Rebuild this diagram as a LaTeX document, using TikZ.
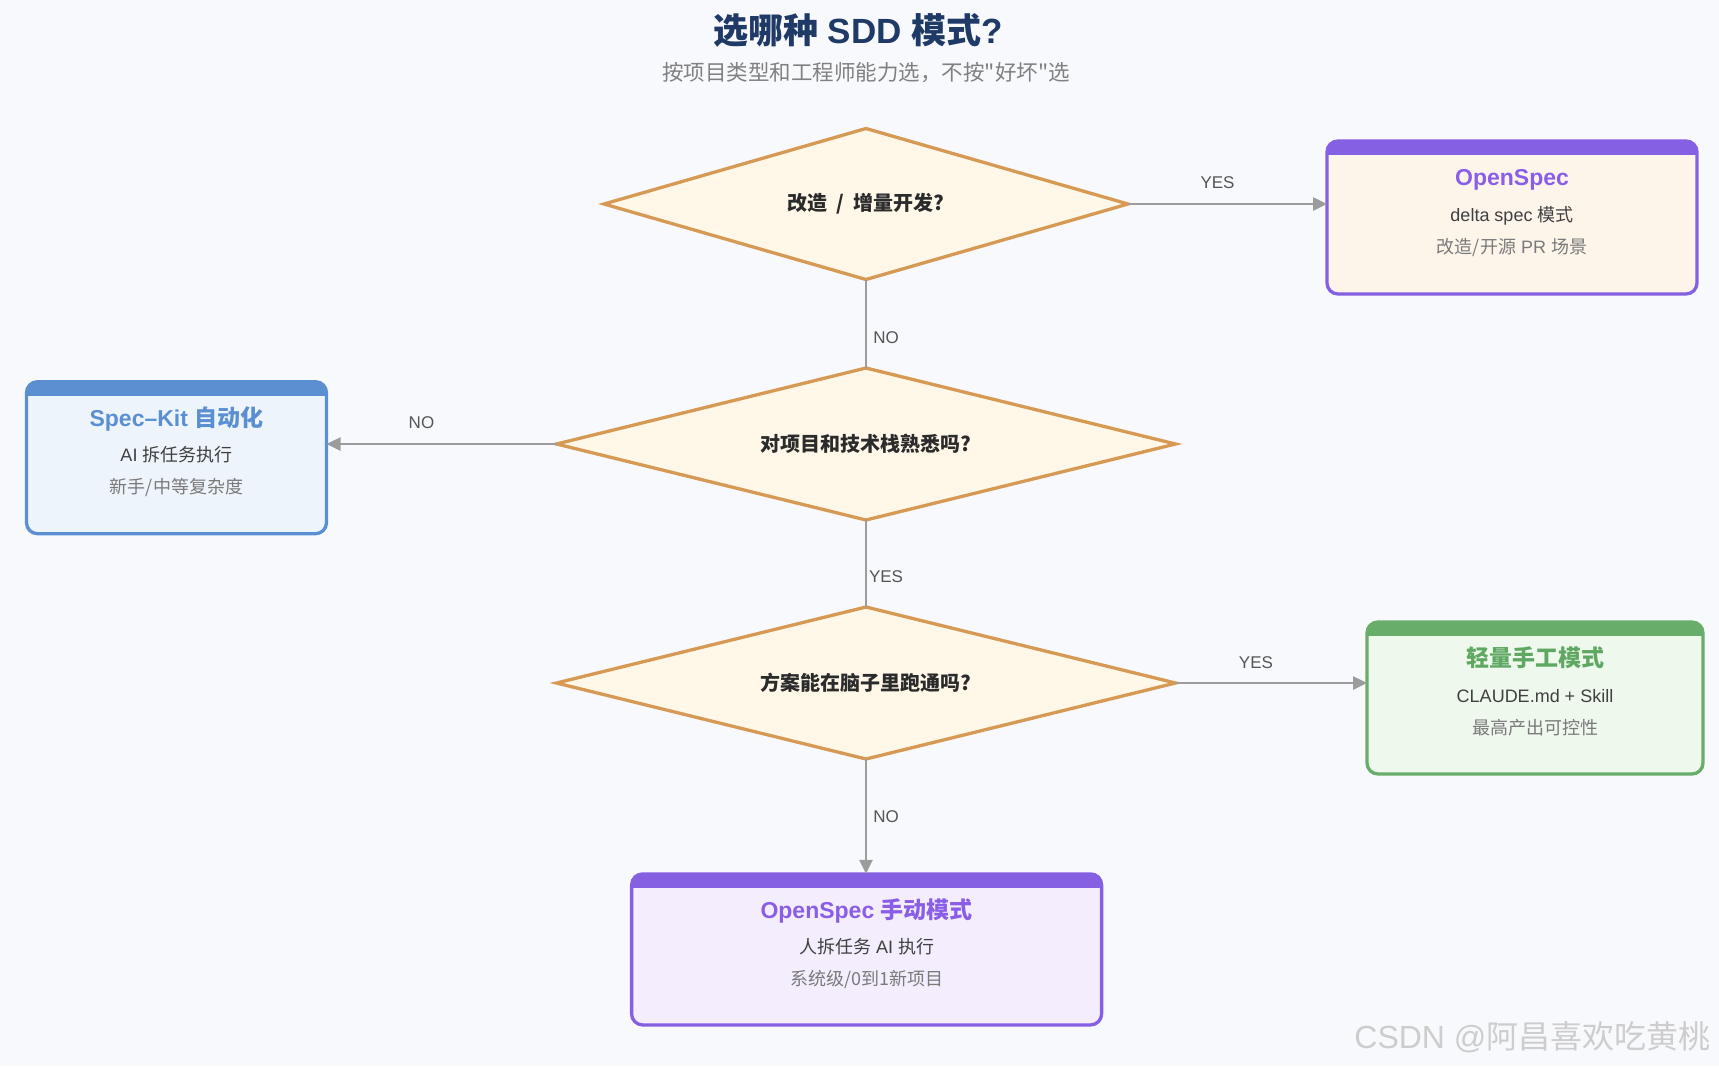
\documentclass[tikz,border=0pt]{standalone}
\usepackage{fontspec}
\setmainfont{Liberation Sans}
\newfontfamily\cjk{Noto Sans CJK SC}
\usetikzlibrary{shapes.geometric,arrows.meta}
\newcommand\zh[1]{{\cjk #1}}
\definecolor{bgc}{HTML}{F8F9FD}
\definecolor{titlec}{HTML}{1F3A66}
\definecolor{subc}{HTML}{808080}
\definecolor{diafill}{HTML}{FFF7E8}
\definecolor{diastroke}{HTML}{D69A55}
\definecolor{diatext}{HTML}{2B2B2B}
\definecolor{connc}{HTML}{9C9C9C}
\definecolor{labc}{HTML}{555555}
\definecolor{purple}{HTML}{8560E3}
\definecolor{purpletxt}{HTML}{8A5EE6}
\definecolor{osfill}{HTML}{FDF5EA}
\definecolor{bmfill}{HTML}{F3EDFD}
\definecolor{blueb}{HTML}{5A8FD2}
\definecolor{skfill}{HTML}{EEF4FB}
\definecolor{greenb}{HTML}{68AD6A}
\definecolor{greentxt}{HTML}{5FA862}
\definecolor{grfill}{HTML}{EEF8EC}
\definecolor{line2c}{HTML}{404040}
\definecolor{line3c}{HTML}{7A7A7A}
\definecolor{wmc}{HTML}{CDCDCD}
\tikzset{
  dia/.style={diamond, draw=diastroke, fill=diafill, line width=3.3pt, inner sep=0pt, outer sep=0pt,
    font=\cjk\bfseries\fontsize{20}{22}\selectfont, text=diatext},
  sbox/.style={rectangle, rounded corners=11pt, line width=3.3pt, inner sep=0pt, outer sep=0pt},
  btitle/.style={anchor=base, inner sep=0pt, font=\bfseries\fontsize{23}{25}\selectfont},
  bline/.style={anchor=base, inner sep=0pt, font=\fontsize{18}{20}\selectfont, text=line2c},
  bline3/.style={anchor=base, inner sep=0pt, font=\fontsize{18}{20}\selectfont, text=line3c},
  conn/.style={draw=connc, line width=2.5pt, -{Triangle[length=14pt,width=13pt]}},
  plain/.style={draw=connc, line width=2.5pt},
  lab/.style={font=\fontsize{17}{20}\selectfont, text=labc, inner sep=0pt}
}
\newcommand\band[2]{%
  \begin{scope}
    \clip[rounded corners=11pt] (#1.south west) rectangle (#1.north east);
    \fill[#2] (#1.north west) rectangle ([yshift=-14pt]#1.north east);
  \end{scope}}
\begin{document}
\begin{tikzpicture}[x=1pt,y=-1pt]
\fill[bgc] (0,0) rectangle (1719,1066);
\useasboundingbox (0,0) rectangle (1719,1066);

% title
\node[font=\bfseries\fontsize{35}{38}\selectfont, text=titlec] (title) at (858,30) {\zh{选哪种} SDD \zh{模式}?};
\node[font=\fontsize{21.5}{24}\selectfont, text=subc] (sub) at (866,73) {\zh{按项目类型和工程师能力选，不按"好坏"选}};

% decisions
\node[dia, aspect=3.47, minimum width=524pt, minimum height=151pt] (d1) at (866,204) {改造\hspace{0.45em}/\hspace{0.45em}增量开发?};
\node[dia, aspect=4.07, minimum width=619pt, minimum height=152pt] (d2) at (866,444) {对项目和技术栈熟悉吗?};
\node[dia, aspect=4.07, minimum width=619pt, minimum height=152pt] (d3) at (866,683) {方案能在脑子里跑通吗?};

% OpenSpec
\node[sbox, draw=purple, fill=osfill, minimum width=370pt, minimum height=153pt] (os) at (1512,217.5) {};
\band{os}{purple}
\node[btitle, text=purpletxt] (ost) at ([yshift=-44.5pt]os.north) {OpenSpec};
\node[bline] (os1) at ([yshift=-80pt]os.north) {delta spec \zh{模式}};
\node[bline3] (os2) at ([yshift=-112pt]os.north) {\zh{改造/开源} PR \zh{场景}};

% Spec-Kit
\node[sbox, draw=blueb, fill=skfill, minimum width=300pt, minimum height=152pt] (sk) at (176.5,457.7) {};
\band{sk}{blueb}
\node[btitle, text=blueb] (skt) at ([yshift=-44.5pt]sk.north) {Spec–Kit \zh{自动化}};
\node[bline] (sk1) at ([yshift=-80pt]sk.north) {AI \zh{拆任务执行}};
\node[bline3] (sk2) at ([yshift=-112pt]sk.north) {\zh{新手/中等复杂度}};

% green
\node[sbox, draw=greenb, fill=grfill, minimum width=336pt, minimum height=152pt] (gr) at (1535,698) {};
\band{gr}{greenb}
\node[btitle, text=greentxt] (grt) at ([yshift=-44.5pt]gr.north) {\zh{轻量手工模式}};
\node[bline] (gr1) at ([yshift=-80pt]gr.north) {CLAUDE.md + Skill};
\node[bline3] (gr2) at ([yshift=-112pt]gr.north) {\zh{最高产出可控性}};

% bottom
\node[sbox, draw=purple, fill=bmfill, minimum width=470pt, minimum height=151pt] (bm) at (866.6,949.4) {};
\band{bm}{purple}
\node[btitle, text=purpletxt] (bmt) at ([yshift=-44.5pt]bm.north) {OpenSpec \zh{手动模式}};
\node[bline] (bm1) at ([yshift=-80pt]bm.north) {\zh{人拆任务} AI \zh{执行}};
\node[bline3] (bm2) at ([yshift=-112pt]bm.north) {\zh{系统级/0到1新项目}};

% connectors
\draw[conn] (d1.east) -- (d1.east -| os.west) node[lab, pos=0.45, yshift=21pt] {YES};
\draw[plain] (d1.south) -- (d2.north) node[lab, pos=0.655, xshift=20pt] {NO};
\draw[conn] (d2.west) -- (d2.west -| sk.east) node[lab, pos=0.587, yshift=21pt] {NO};
\draw[plain] (d2.south) -- (d3.north) node[lab, pos=0.655, xshift=20pt] {YES};
\draw[conn] (d3.east) -- (d3.east -| gr.west) node[lab, pos=0.42, yshift=20pt] {YES};
\draw[conn] (d3.south) -- (d3.south |- bm.north) node[lab, pos=0.5, xshift=20pt] {NO};

% watermark
\node[font=\fontsize{32}{35}\selectfont, text=wmc, anchor=east] (wm) at (1714,1037) {CSDN @\zh{阿昌喜欢吃黄桃}};
\end{tikzpicture}
\end{document}
